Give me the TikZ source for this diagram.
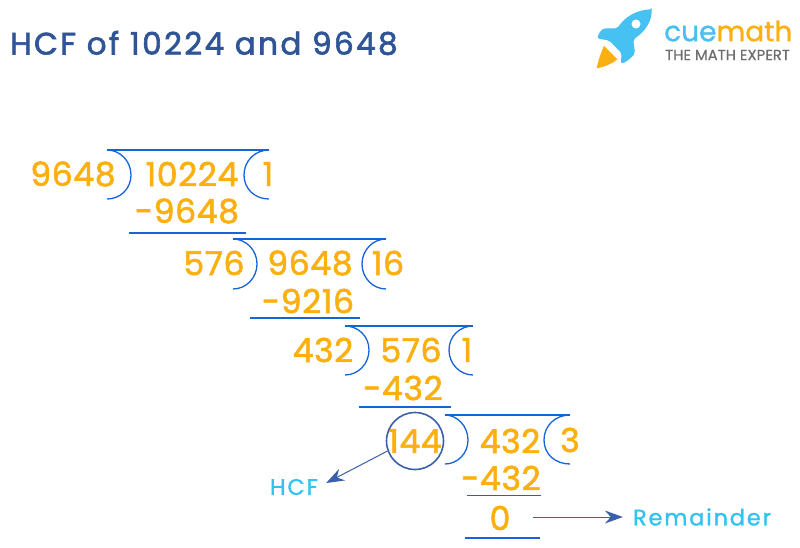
\documentclass[tikz,border=0pt]{standalone}
\usepackage{fontspec}
\setmainfont{Poppins}
\newfontfamily\numfont{Poppins}[FakeBold=1.8,LetterSpace=2]
\newfontfamily\spacedfont{Poppins}[LetterSpace=8,FakeBold=1.3]
\newfontfamily\titlefont{Poppins}[LetterSpace=7.8,FakeBold=2]
\newfontfamily\brandfont{Poppins}[FakeBold=1]
\newfontfamily\tagfont{Poppins}[FakeBold=0.8]
\usetikzlibrary{arrows.meta}
\definecolor{numc}{HTML}{FBB00F}
\definecolor{brk}{HTML}{1565D8}
\definecolor{ttl}{HTML}{2F5597}
\definecolor{lbl}{HTML}{33C3F2}
\definecolor{arr}{HTML}{3B5FA8}
\definecolor{rocket}{HTML}{45C1F2}
\definecolor{grey}{HTML}{6D6E70}
\tikzset{
 num/.style={text=numc,inner sep=0pt,font=\numfont\fontsize{33}{33}\selectfont},
 lab/.style={text=lbl,inner sep=0pt,font=\spacedfont\fontsize{22.5}{22.5}\selectfont},
 rule/.style={draw=brk,line width=1.3pt},
 pointer/.style={draw=arr,line width=1pt,-{Stealth[length=18pt,width=13pt,inset=6pt]}}
}
\newcommand{\bracket}[7]{% xl xr ytop apexl apexr ymid ybot
 \draw[rule] (#1,#3) -- (#2,#3);
 \draw[rule] (#1,#3) .. controls (#4-11,#3) and (#4,#6-14) .. (#4,#6) .. controls (#4,#6+14) and (#4-11,#7) .. (#1,#7);
 \draw[rule] (#2,#3) .. controls (#5+11,#3) and (#5,#6-14) .. (#5,#6) .. controls (#5,#6+14) and (#5+11,#7) .. (#2,#7);
}
\begin{document}
\begin{tikzpicture}[x=1pt,y=-1pt]
\useasboundingbox[fill=white] (0,0) rectangle (800,548);
\node[anchor=west,text=ttl,inner sep=0pt,font=\titlefont\fontsize{31}{31}\selectfont] (title) at (10,43) {HCF of 10224 and 9648};
% logo
\begin{scope}[shift={(580,0)},x=1pt/3,y=-1pt/3]
\fill[rocket,rounded corners=2pt] (215,28) .. controls (170,30) and (135,50) .. (112,85) -- (70,85) .. controls (60,95) and (55,103) .. (52,115) -- (88,122) -- (125,160) -- (122,190) .. controls (135,188) and (150,178) .. (165,160) -- (160,118) .. controls (195,95) and (215,65) .. (215,28) -- cycle;
\fill[white] (168,72) circle[radius=4.5pt];
\fill[numc] (72,138) .. controls (62,160) and (55,180) .. (50,205) .. controls (75,200) and (95,192) .. (112,178) -- cycle;
\end{scope}
\node[anchor=west,inner sep=0pt,font=\brandfont\fontsize{28}{28}\selectfont] (brand) at (664,31) {\textcolor{rocket}{cue}\textcolor{numc}{math}};
\node[anchor=west,inner sep=0pt,text=grey,font=\tagfont\fontsize{14.8}{14.8}\selectfont] (tag) at (665,55) {THE MATH EXPERT};
% brackets
\bracket{107}{269}{150}{131}{244}{175}{199}
\bracket{233}{386}{239}{257}{362}{264}{289}
\bracket{345}{473}{326}{369}{449}{350}{375}
\bracket{445}{570}{415}{468}{544}{440}{464}
% rules
\draw[rule] (129,233) -- (246,233);
\draw[rule] (250,318) -- (360,318);
\draw[rule] (359,407) -- (451,407);
\draw[rule,line width=1pt] (467,495) -- (541,495);
\draw[rule] (465,538) -- (540,538);
% numbers
\node[num] (a1) at (73,174) {9648};
\node[num] (a2) at (192,174) {10224};
\node[num] (a3) at (268,174) {1};
\node[num] (a4) at (187,211) {-9648};
\node[num] (b1) at (214,263) {576};
\node[num] (b2) at (310,263) {9648};
\node[num] (b3) at (388,263) {16};
\node[num] (b4) at (308,301) {-9216};
\node[num] (c1) at (323,350) {432};
\node[num] (c2) at (411,350) {576};
\node[num] (c3) at (467,350) {1};
\node[num] (c4) at (403,388) {-432};
\node[num] (d1) at (415,441) {144};
\node[num] (d2) at (510,441) {432};
\node[num] (d3) at (570,440) {3};
\node[num] (d4) at (501,478) {-432};
\node[num] (e1) at (500,518) {0};
% circle and arrows
\node[draw=arr,line width=1.6pt,circle,minimum size=57pt,inner sep=0pt] (ring) at (415,441) {};
\node[lab] (hcf) at (294,487) {HCF};
\node[lab] (rem) at (702,517) {Remainder};
\draw[pointer] (ring.200) -- ([shift={(8,-4)}]hcf.east);
\coordinate (q) at (533,517);
\draw[pointer] (q) -- ([xshift=-10pt]rem.west);
\end{tikzpicture}
\end{document}
